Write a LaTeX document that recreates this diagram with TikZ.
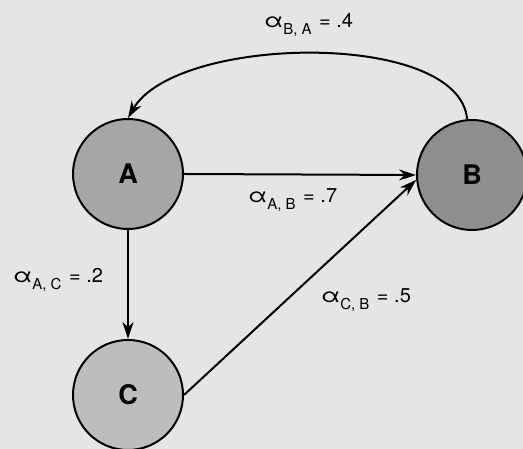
\documentclass[tikz,border=0pt]{standalone}
\usepackage{fontspec}
\setmainfont{TeX Gyre Heros}
\usetikzlibrary{arrows.meta}
\definecolor{paper}{gray}{0.9}
\definecolor{fillA}{gray}{0.65}
\definecolor{fillB}{gray}{0.56}
\definecolor{fillC}{gray}{0.74}
\newcommand{\rate}[2]{\scalebox{1.25}[1]{α}\raisebox{-7pt}{\fontsize{15}{15}\selectfont #1}\hspace{2pt} = #2}

\begin{document}
\begin{tikzpicture}[x=1pt, y=1pt, line width=2pt,
  state/.style={circle, draw, minimum size=110pt, inner sep=0pt, font=\fontsize{27}{27}\selectfont\bfseries},
  edge/.style={-{Stealth[length=17pt, width=11pt]}},
  ratelabel/.style={anchor=base west, inner sep=0pt, font=\fontsize{20}{20}\selectfont}]
  \fill[paper] (0,0) rectangle (523,449);
  \useasboundingbox (0,0) rectangle (523,449);
  \node[state, fill=fillA] (A) at (128,275) {A};
  \node[state, fill=fillB] (B) at (472,274) {B};
  \node[state, fill=fillC] (C) at (128,54) {C};
  \draw[edge] (A.east) -- (B.west);
  \draw[edge] (A.south) -- (C.north);
  \draw[edge] (C.east) -- (B.185);
  % arc from B back to A
  \draw[edge] (B.95) .. controls +(95:90) and +(60:96) .. (A.north);
  \node[ratelabel] (lBA) at (263,421) {\rate{B, A}{.4}};
  \node[ratelabel] (lAB) at (247,246) {\rate{A, B}{.7}};
  \node[ratelabel] (lAC) at (12,166) {\rate{A, C}{.2}};
  \node[ratelabel] (lCB) at (320,146) {\rate{C, B}{.5}};
\end{tikzpicture}
\end{document}
